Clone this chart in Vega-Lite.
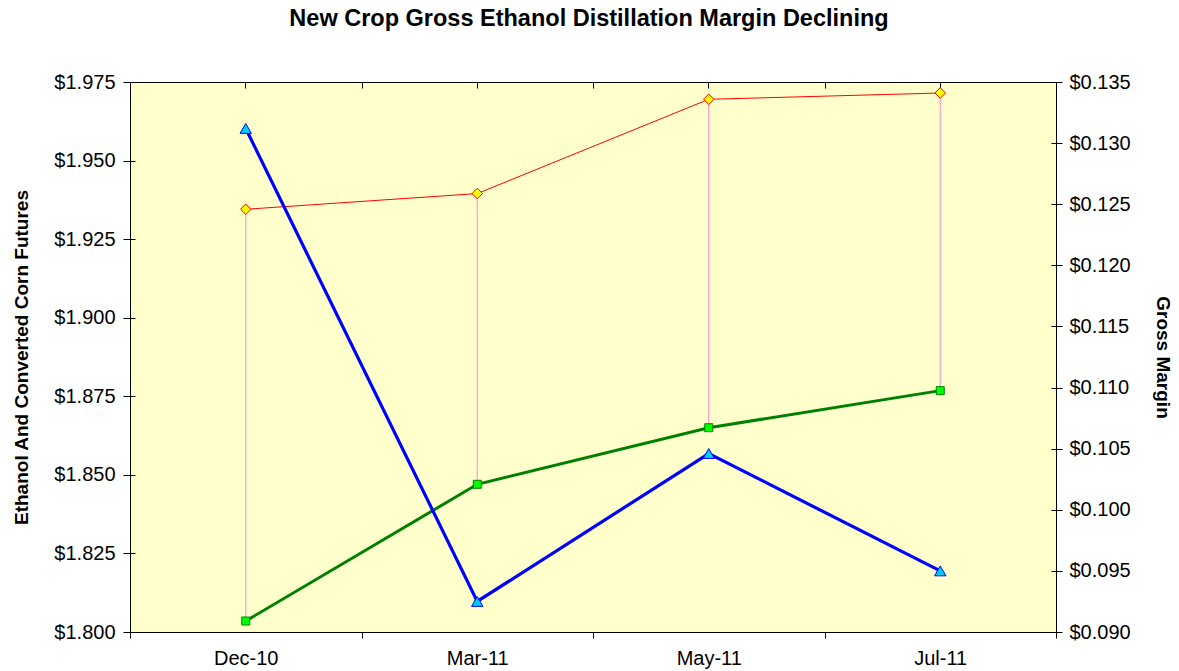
{
  "$schema": "https://vega.github.io/schema/vega-lite/v6.json",
  "width": 926,
  "height": 550,
  "autosize": {"type": "none"},
  "padding": {"left": 130, "top": 82, "right": 123, "bottom": 39},
  "background": "white",
  "title": {
    "text": "New Crop Gross Ethanol Distillation Margin Declining",
    "font": "Liberation Sans",
    "fontSize": 23.5,
    "fontWeight": "bold",
    "color": "black",
    "anchor": "middle",
    "frame": "group",
    "offset": 42,
    "dx": -4
  },
  "config": {
    "view": {"fill": "#FFFFCC", "stroke": "black", "strokeWidth": 1},
    "axis": {
      "domainColor": "black",
      "tickColor": "black",
      "labelColor": "black",
      "titleColor": "black",
      "labelFont": "Liberation Sans",
      "titleFont": "Liberation Sans",
      "labelFontSize": 20,
      "titleFontSize": 19,
      "titleFontWeight": "bold",
      "grid": false,
      "domainWidth": 1,
      "tickWidth": 1
    }
  },
  "data": {
    "values": [
      {"month": "Dec-10", "ethanol": 1.9345, "corn": 1.8035, "margin": 0.1312},
      {"month": "Mar-11", "ethanol": 1.9395, "corn": 1.8470, "margin": 0.0925},
      {"month": "May-11", "ethanol": 1.9695, "corn": 1.8650, "margin": 0.1046},
      {"month": "Jul-11", "ethanol": 1.9715, "corn": 1.8768, "margin": 0.0950}
    ]
  },
  "layer": [
    {
      "layer": [
        {
          "mark": {"type": "rule", "color": "#FF99CC", "strokeWidth": 1.2},
          "encoding": {
            "x": {
              "field": "month", "type": "ordinal", "sort": null, "bandPosition": 0.5,
              "scale": {"type": "band", "paddingInner": 0, "paddingOuter": 0},
              "axis": {"title": null, "tickBand": "extent", "tickSize": 6, "labelPadding": 10, "labelAngle": 0, "domain": true}
            },
            "y": {
              "field": "corn", "type": "quantitative",
              "scale": {"domain": [1.8, 1.975], "nice": false, "zero": false},
              "axis": {
                "orient": "left",
                "title": "Ethanol And Converted Corn Futures",
                "values": [1.8, 1.825, 1.85, 1.875, 1.9, 1.925, 1.95, 1.975],
                "format": "$.3f",
                "tickSize": 7,
                "labelPadding": 8,
                "titlePadding": 22
              }
            },
            "y2": {"field": "ethanol"}
          }
        },
        {
          "mark": {"type": "line", "color": "#FF0000", "strokeWidth": 1,
                   "point": {"shape": "diamond", "size": 110, "filled": true, "fill": "#FFFF00", "stroke": "#FF0000", "strokeWidth": 1}},
          "encoding": {
            "x": {
              "field": "month", "type": "ordinal", "sort": null, "bandPosition": 0.5,
              "scale": {"type": "band", "paddingInner": 0, "paddingOuter": 0},
              "axis": {"title": null, "tickBand": "extent", "tickSize": -6, "labels": false, "domain": false}
            },
            "y": {
              "field": "ethanol", "type": "quantitative",
              "scale": {"domain": [1.8, 1.975], "nice": false, "zero": false},
              "axis": {
                "orient": "left", "title": null, "labels": false, "domain": false,
                "values": [1.8, 1.825, 1.85, 1.875, 1.9, 1.925, 1.95, 1.975],
                "tickSize": -5
              }
            }
          }
        },
        {
          "mark": {"type": "line", "color": "#008000", "strokeWidth": 3,
                   "point": {"shape": "square", "size": 64, "filled": true, "fill": "#00FF00", "stroke": "#008000", "strokeWidth": 1}},
          "encoding": {
            "x": {
              "field": "month", "type": "ordinal", "sort": null, "bandPosition": 0.5,
              "scale": {"type": "band", "paddingInner": 0, "paddingOuter": 0},
              "axis": {"title": null, "tickBand": "center", "tickSize": -6, "labels": false, "domain": false}
            },
            "y": {
              "field": "corn", "type": "quantitative",
              "scale": {"domain": [1.8, 1.975], "nice": false, "zero": false},
              "axis": null
            }
          }
        }
      ],
      "resolve": {"axis": {"x": "independent", "y": "independent"}}
    },
    {
      "layer": [
        {
          "mark": {"type": "line", "color": "#0000FF", "strokeWidth": 3.2},
          "encoding": {
            "x": {
              "field": "month", "type": "ordinal", "sort": null, "bandPosition": 0.5,
              "scale": {"type": "band", "paddingInner": 0, "paddingOuter": 0},
              "axis": null
            },
            "y": {
              "field": "margin", "type": "quantitative",
              "scale": {"domain": [0.09, 0.135], "nice": false, "zero": false},
              "axis": {
                "orient": "right",
                "title": "Gross Margin",
                "values": [0.09, 0.095, 0.1, 0.105, 0.11, 0.115, 0.12, 0.125, 0.13, 0.135],
                "format": "$.3f",
                "tickSize": 6,
                "labelPadding": 7,
                "titlePadding": 22
              }
            }
          }
        },
        {
          "mark": {"type": "point", "shape": "triangle-up", "size": 130, "filled": true, "fill": "#00CCFF", "stroke": "#0000FF", "strokeWidth": 1, "opacity": 1},
          "encoding": {
            "x": {
              "field": "month", "type": "ordinal", "sort": null, "bandPosition": 0.5,
              "scale": {"type": "band", "paddingInner": 0, "paddingOuter": 0},
              "axis": null
            },
            "y": {
              "field": "margin", "type": "quantitative",
              "scale": {"domain": [0.09, 0.135], "nice": false, "zero": false},
              "axis": {
                "orient": "right", "title": null, "labels": false, "domain": false,
                "values": [0.09, 0.095, 0.1, 0.105, 0.11, 0.115, 0.12, 0.125, 0.13, 0.135],
                "tickSize": -5
              }
            }
          }
        }
      ],
      "resolve": {"axis": {"y": "independent"}}
    }
  ],
  "resolve": {"scale": {"y": "independent"}, "axis": {"x": "independent", "y": "independent"}}
}
